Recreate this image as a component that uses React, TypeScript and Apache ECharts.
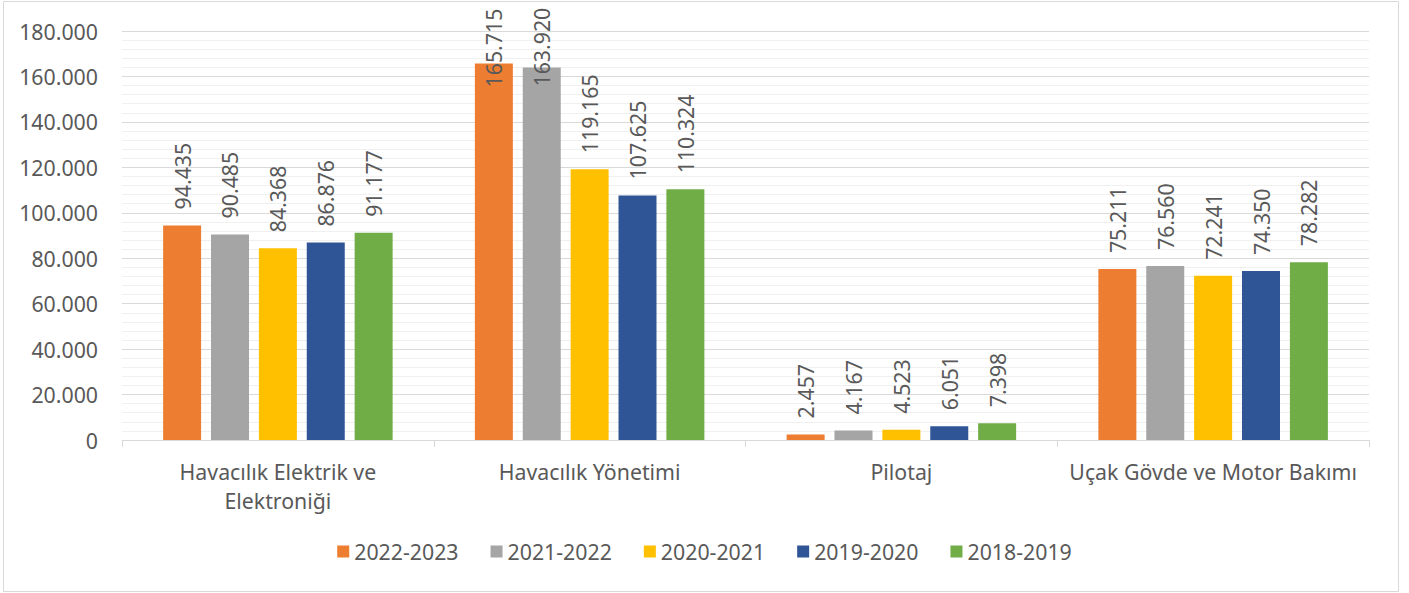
import React, { useEffect, useRef } from "react";
import * as echarts from "echarts";

const categories = [
  "Havacılık Elektrik ve\nElektroniği",
  "Havacılık Yönetimi",
  "Pilotaj",
  "Uçak Gövde ve Motor Bakımı",
];
const seriesNames = ["2022-2023", "2021-2022", "2020-2021", "2019-2020", "2018-2019"];
const s2022_2023 = [94435, 165715, 2457, 75211];
const s2021_2022 = [90485, 163920, 4167, 76560];
const s2020_2021 = [84368, 119165, 4523, 72241];
const s2019_2020 = [86876, 107625, 6051, 74350];
const s2018_2019 = [91177, 110324, 7398, 78282];
const seriesValues = [s2022_2023, s2021_2022, s2020_2021, s2019_2020, s2018_2019];
const colors = ["#ED7D31", "#A5A5A5", "#FFC000", "#2F5597", "#70AD47"];

const fmt = (n: number) => String(n).replace(/\B(?=(\d{3})+(?!\d))/g, ".");
const FONT = "'Noto Sans', sans-serif";
const TXT = "#595959";
const FS = 21.3;

export default function App() {
  const ref = useRef<HTMLDivElement>(null);
  useEffect(() => {
    if (!ref.current) return;
    const chart = echarts.init(ref.current, undefined, { renderer: "svg" });
    const series = seriesValues.map((vals, si) => ({
      name: seriesNames[si],
      type: "bar",
      barWidth: 38,
      barGap: "26%",
      itemStyle: { color: colors[si] },
      label: {
        show: true,
        position: "top",
        rotate: 90,
        align: "left",
        verticalAlign: "middle",
        distance: 16,
        color: TXT,
        fontFamily: FONT,
        fontSize: FS,
        formatter: (p: any) => fmt(p.value),
      },
      data: vals.map((v) =>
        v > 160000 ? { value: v, label: { distance: v > 165000 ? -24 : -19 } } : v
      ),
    }));
    chart.setOption({
      animation: false,
      backgroundColor: "#fff",
      textStyle: { fontFamily: FONT },
      graphic: [
        {
          type: "rect",
          shape: { x: 3.5, y: 1.5, width: 1395, height: 590 },
          style: { fill: "none", stroke: "#D9D9D9", lineWidth: 1 },
          silent: true,
        },
      ],
      grid: { left: 122, right: 40, top: 31, bottom: 153, containLabel: false },
      legend: {
        data: seriesNames,
        bottom: 26,
        left: "center",
        itemWidth: 12,
        itemHeight: 12,
        itemGap: 32,
        icon: "rect",
        textStyle: { color: TXT, fontSize: FS, fontFamily: FONT },
      },
      xAxis: {
        type: "category",
        data: categories,
        axisLine: { show: true, lineStyle: { color: "#D9D9D9", width: 1 } },
        axisTick: { show: true, length: 7, alignWithLabel: false, lineStyle: { color: "#D9D9D9" } },
        axisLabel: {
          color: TXT,
          fontSize: FS,
          fontFamily: FONT,
          margin: 17,
          lineHeight: 29,
          interval: 0,
        },
      },
      yAxis: {
        type: "value",
        min: 0,
        max: 180000,
        interval: 20000,
        axisLine: { show: false },
        axisTick: { show: false },
        axisLabel: {
          color: TXT,
          fontSize: FS,
          fontFamily: FONT,
          margin: 24,
          formatter: (v: number) => fmt(v),
        },
        splitLine: { show: true, lineStyle: { color: "#D9D9D9", width: 1 } },
        minorTick: { show: false, splitNumber: 5 },
        minorSplitLine: { show: true, lineStyle: { color: "#F0F0F0", width: 1 } },
      },
      series,
    });
    return () => chart.dispose();
  }, []);
  return (
    <div
      ref={ref}
      style={{ position: "fixed", left: 0, top: 0, width: 1409, height: 593, background: "#fff" }}
    />
  );
}
